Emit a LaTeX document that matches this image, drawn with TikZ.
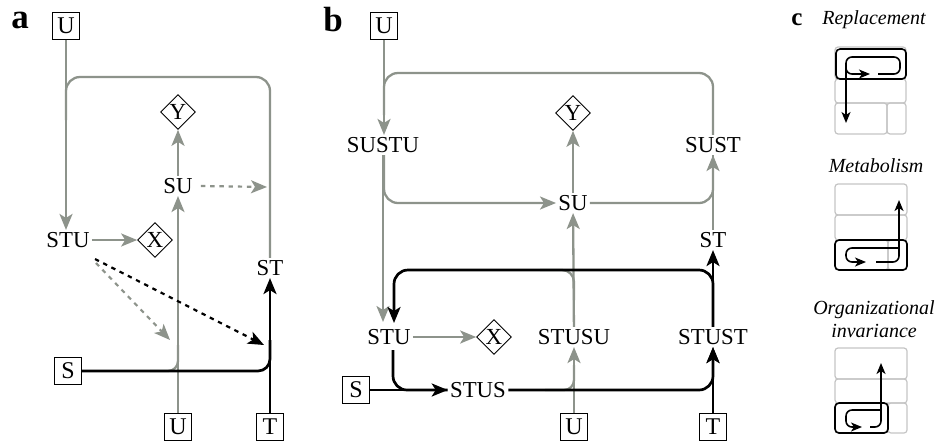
\documentclass[tikz,border=0pt]{standalone}
\usepackage{fontspec}
\setmainfont{Liberation Serif}[BoldFont={Liberation Serif Bold}, ItalicFont={Liberation Serif Italic}]
\usetikzlibrary{arrows.meta,shapes.geometric}
\definecolor{flowgray}{RGB}{141,147,139}
\definecolor{cellgray}{RGB}{196,196,196}
\begin{document}
\begin{tikzpicture}[x=0.5pt, y=-0.5pt, >={Stealth[length=8pt,width=6.5pt,inset=2pt]},
  var/.style={inner sep=1pt, font=\fontsize{11.4}{13}\selectfont},
  inp/.style={draw, thin, inner sep=0pt, minimum size=13.5pt, font=\fontsize{12}{14}\selectfont},
  outp/.style={draw, thin, diamond, inner sep=0.4pt, font=\fontsize{11.5}{14}\selectfont},
  gl/.style={draw=flowgray, line width=1.15pt},
  ga/.style={gl, ->},
  kl/.style={draw=black, line width=1.35pt},
  ka/.style={kl, ->},
  dsh/.style={line width=1.1pt, dash pattern=on 2.2pt off 2.4pt},
  cell/.style={draw=cellgray, line width=0.6pt, rounded corners=1.5pt},
  fence/.style={draw=black, line width=0.8pt, rounded corners=2pt},
  sk/.style={draw=black, line width=0.8pt, rounded corners=3pt, >={Stealth[length=5.5pt,width=4.5pt,inset=1.5pt]}},
  tag/.style={font=\fontsize{17.5}{20}\selectfont\bfseries},
  ctext/.style={font=\fontsize{10}{11.5}\selectfont\itshape, align=center}]
\useasboundingbox (0,0) rectangle (940,440);

% panel a
\node[tag] (taga) at (20,20) {a};
\node[inp] (ua) at (66,26) {U};
\node[var] (stua) at (68,240) {STU};
\node[outp] (xa) at (155,240) {X};
\node[var] (sua) at (178,186) {SU};
\node[outp] (ya) at (178,112) {Y};
\node[var] (sta) at (270,268) {ST};
\node[inp] (sa) at (68,371) {S};
\node[inp] (uaa) at (178,427) {U};
\node[inp] (ta) at (270,427) {T};
\coordinate (sudash) at (267,187);
\coordinate (gdash0) at (96,263);
\coordinate (gdash1) at (170,340);
\coordinate (kdash0) at (95,259);
\coordinate (kdash1) at (264,345);

\draw[ga] (ua) -- (ua|-stua.north);
\draw[gl, rounded corners=7pt] (sta.north) -- (270,77) -- (66,77) -- (66,120);
\draw[ga] (sua) -- (ya);
\draw[ga, dsh] (sua.east) ++(6,0) -- (sudash);
\draw[ga] (stua) -- (xa);
\draw[ga, dsh] (gdash0) -- (gdash1);
\draw[ga] (uaa) -- (sua);
\draw[gl, rounded corners=5pt] (150,371) -| (178,345);
\draw[->, dsh] (kdash0) -- (kdash1);
\draw[kl, rounded corners=6pt] (sa) -| (270,340);
\draw[ka] (ta) -- (sta);

% panel b
\node[tag] (tagb) at (333,20) {b};
\node[inp] (ub) at (384,26) {U};
\node[var] (sustu) at (383,145) {SUSTU};
\node[outp] (yb) at (573,113) {Y};
\node[var] (sust) at (713,145) {SUST};
\node[var] (sub) at (573,203) {SU};
\node[var] (stb) at (713,240) {ST};
\node[var] (stub) at (389,337) {STU};
\node[outp] (xb) at (494,337) {X};
\node[var] (stusu) at (574,337) {STUSU};
\node[var] (stust) at (713,337) {STUST};
\node[inp] (sb) at (356,390) {S};
\node[var] (stus) at (478,390) {STUS};
\node[inp] (ubb) at (574,427) {U};
\node[inp] (tb) at (713,427) {T};

\draw[ga] (ub) -- (ub|-sustu.north);
\draw[gl, rounded corners=7pt] (sust.north) -- (713,73) -- (384,73) -- (384,115);
\draw[ga, rounded corners=7pt] (384,155) |- (sub.west);
\draw[ga] (383,155) -- (383,322);
\draw[ga, rounded corners=7pt] (sub.east) -| (sust.south);
\draw[gl] (stb) -- (sust);
\draw[ga] (sub) -- (yb);
\draw[ga] (stusu) -- (sub);
\draw[gl, rounded corners=6pt] (574,300) |- (540,270);
\draw[ga] (stub) -- (xb);
\draw[ga] (ubb) -- (stusu);
\draw[gl, rounded corners=5pt] (545,390) -| (574,365);
\draw[ka] (sb) -- (stus);
\draw[kl, rounded corners=7pt] (393,350) |- (stus.west);
\draw[ka, rounded corners=7pt] (stus.east) -| (stust.south);
\draw[ka] (tb) -- (stust);
\draw[ka] (stust) -- (stb);
\draw[ka, rounded corners=7pt] (stust.north) -- (713,270) -- (394,270) -- (394,323);

% panel c
\node[tag, font=\fontsize{12.5}{14}\selectfont\bfseries] (tagc) at (797,20) {c};
\node[ctext] (repl) at (874,20) {Replacement};
\draw[cell] (835,47) rectangle (906,79);
\draw[cell] (835,79) rectangle (906,103);
\draw[cell] (835,103) rectangle (887,134);
\draw[cell] (887,103) rectangle (906,134);
\draw[fence] (836,49) rectangle (906,79);
\draw[sk, ->] (878,74) -- (900,74) -- (900,57) -- (846,57) -- (846,123);
\draw[sk, ->] (846,64) |- (870,74);

\node[ctext] (meta) at (876,166) {Metabolism};
\draw[cell] (835,184) rectangle (907,215);
\draw[cell] (835,215) rectangle (907,240);
\draw[cell] (835,240) rectangle (888,270);
\draw[cell] (888,240) rectangle (907,270);
\draw[fence] (835,240) rectangle (907,270);
\draw[sk, ->] (876,262) -| (899,200);
\draw[sk, ->] (899,248) -| (846,262) -- (866,262);

\node[ctext] (orgi) at (874,319) {Organizational\\invariance};
\draw[cell] (835,348) rectangle (907,379);
\draw[cell] (835,379) rectangle (907,403);
\draw[cell] (835,403) rectangle (888,433);
\draw[cell] (888,403) rectangle (907,433);
\draw[fence] (835,403) rectangle (888,433);
\draw[sk, ->] (870,427) -| (881,363);
\draw[sk, ->] (881,410) -| (846,427) -- (862,427);
\end{tikzpicture}
\end{document}
